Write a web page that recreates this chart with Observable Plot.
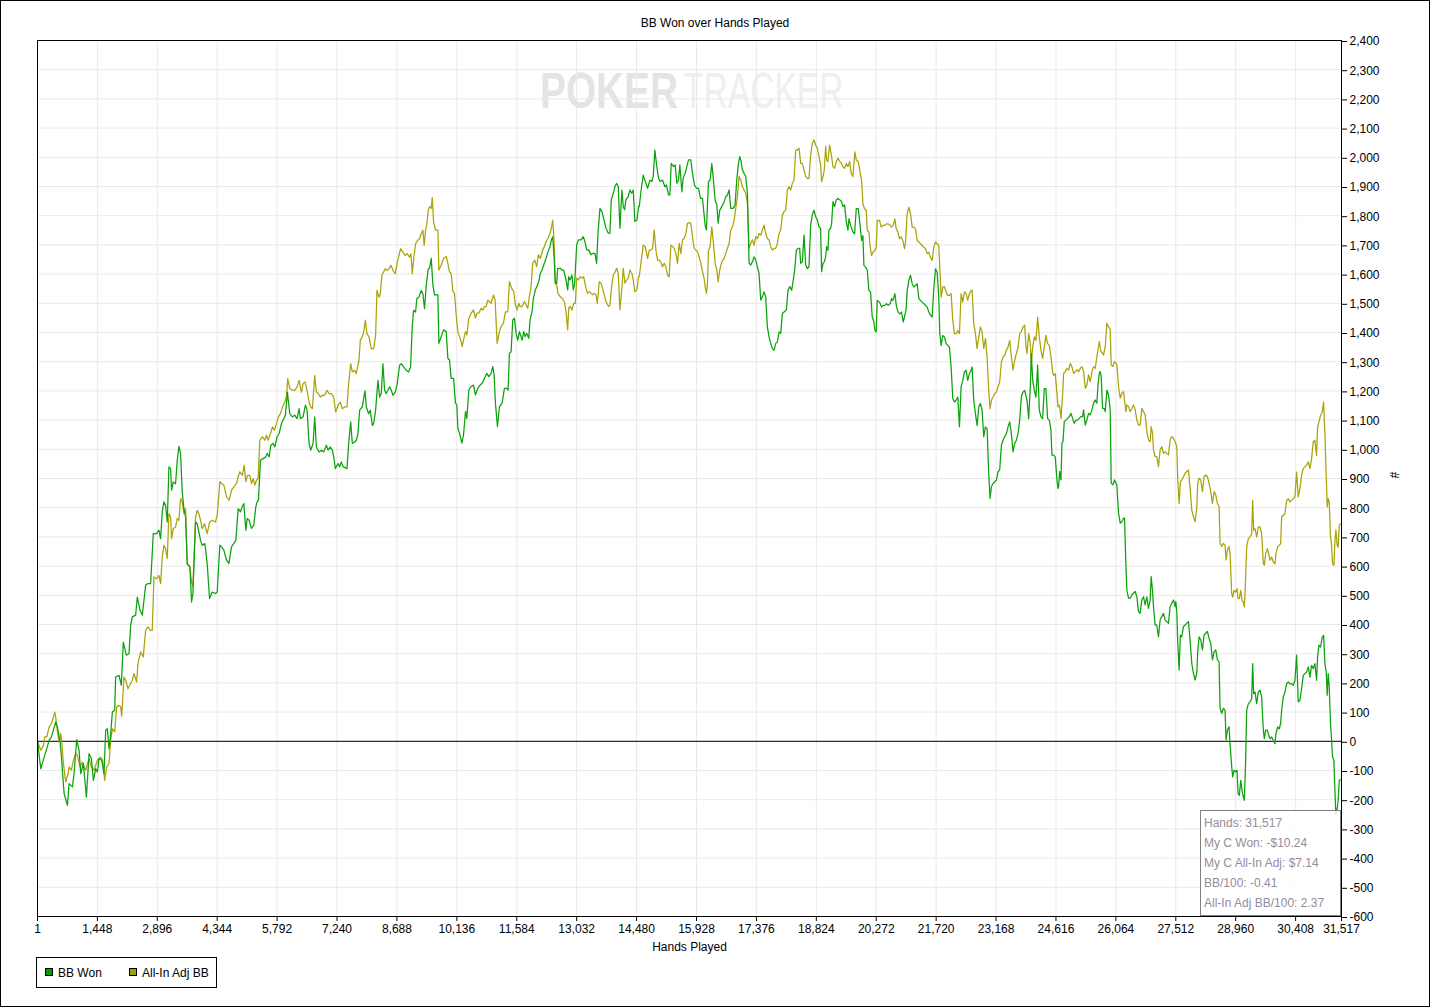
<!DOCTYPE html>
<html><head><meta charset="utf-8">
<script src="https://cdn.jsdelivr.net/npm/d3@7"></script>
<script src="https://cdn.jsdelivr.net/npm/@observablehq/plot@0.6"></script>
<style>
body{margin:0;background:#fff;}
#wrap{position:relative;width:1430px;height:1007px;background:#fff;font-family:"Liberation Sans",Arial,sans-serif;font-size:12px;color:#000;overflow:hidden;}
#wm{position:absolute;left:0;top:0;}
#chart{position:absolute;left:0;top:0;}
#title{position:absolute;left:0;top:16px;width:1430px;text-align:center;line-height:14px;}
#tip{position:absolute;left:1200px;top:810px;width:141px;height:106px;box-sizing:border-box;border:1px solid #808080;background:rgba(255,255,255,0.82);color:#958b9b;padding:2px 0 0 3px;line-height:20px;white-space:nowrap;}
#legend{position:absolute;left:36px;top:957px;width:181px;height:31px;box-sizing:border-box;border:1px solid #000;}
.sw{position:absolute;top:10px;width:8px;height:8px;box-sizing:border-box;border:1px solid #000;}
.lt{position:absolute;top:8px;line-height:14px;}
#border{position:absolute;left:0;top:0;width:1430px;height:1007px;box-sizing:border-box;border:1px solid #000;pointer-events:none;}
</style></head>
<body>
<div id="wrap">
  <svg id="wm" width="1430" height="130">
    <text transform="translate(540,108) scale(0.776,1)" font-family="Liberation Sans, Arial, sans-serif" font-weight="bold" font-size="50" fill="#e4e4e4">POKER</text>
    <text transform="translate(683,108) scale(0.672,1)" font-family="Liberation Sans, Arial, sans-serif" font-size="50" fill="#efefef">TRACKER</text>
  </svg>
  <div id="chart"></div>
  <div id="title"></div>
  <div id="tip"></div>
  <div id="legend"></div>
  <div id="border"></div>
</div>
<script>
const titleText = "BB Won over Hands Played";
const xLabel = "Hands Played";
const yLabel = "#";
const xTicks = [1,1448,2896,4344,5792,7240,8688,10136,11584,13032,14480,15928,17376,18824,20272,21720,23168,24616,26064,27512,28960,30408,31517];
const yTicks = d3.range(-600, 2401, 100);
const seriesNames = ["BB Won", "All-In Adj BB"];
const seriesColors = ["#0ba20b", "#aaa30a"];
const swatchColors = ["#00a000", "#a0a000"];
const tipLines = ["Hands: 31,517", "My C Won: -$10.24", "My C All-In Adj: $7.14", "BB/100: -0.41", "All-In Adj BB/100: 2.37"];

// [hand, BB won]
const bbWon = [[1,0],[80,-94],[161,-54],[225,-25],[282,3],[338,15],[442,66],[483,49],[547,-2],[579,-54],[644,-179],[724,-219],[764,-145],[845,-156],[885,-111],[949,6],[1006,-31],[1046,-111],[1110,-76],[1183,-191],[1247,-42],[1303,-59],[1351,-134],[1408,-94],[1448,-105],[1488,-59],[1553,-65],[1609,-111],[1649,38],[1689,43],[1729,-25],[1770,26],[1810,100],[1866,106],[1890,220],[1971,226],[2027,192],[2075,340],[2148,295],[2212,300],[2252,397],[2293,426],[2373,432],[2413,494],[2478,449],[2534,432],[2614,534],[2671,540],[2735,540],[2799,711],[2880,711],[2936,723],[2976,694],[3016,785],[3057,820],[3097,808],[3137,751],[3177,940],[3218,934],[3242,860],[3282,888],[3338,882],[3378,962],[3419,1010],[3459,985],[3499,854],[3539,797],[3580,768],[3620,608],[3684,597],[3724,477],[3757,506],[3821,751],[3861,745],[3942,688],[3982,671],[4046,677],[4102,608],[4159,489],[4223,511],[4303,506],[4344,511],
[4408,672],[4449,666],[4505,655],[4569,621],[4626,609],[4690,666],[4746,678],[4795,689],[4851,797],[4907,786],[4947,803],[4988,814],[5036,723],[5068,763],[5116,757],[5173,729],[5229,740],[5277,803],[5309,820],[5341,826],[5390,963],[5454,968],[5518,974],[5551,986],[5599,974],[5639,1014],[5695,1020],[5736,1008],[5792,1043],[5840,1054],[5897,1088],[5953,1105],[5993,1117],[6041,1196],[6098,1122],[6162,1111],[6218,1117],[6275,1105],[6323,1139],[6355,1105],[6419,1111],[6476,1151],[6516,1134],[6564,1020],[6604,997],[6661,1020],[6701,1111],[6741,1008],[6806,991],[6862,997],[6918,991],[6983,1014],[7023,997],[7079,1008],[7127,997],[7168,968],[7200,934],[7264,951],[7304,940],[7344,957],[7385,940],[7425,938],[7481,934],[7521,1020],[7570,1094],[7610,1020],[7666,1025],[7706,1031],[7747,1054],[7787,1134],[7851,1145],[7916,1200],[7948,1145],[8004,1122],[8044,1134],[8093,1082],[8125,1088],[8173,1134],[8229,1236],[8270,1179],[8310,1191],[8350,1293],[8390,1202],[8430,1191],[8471,1202],[8511,1214],[8551,1202],[8591,1185],[8648,1196],[8696,1225],[8752,1288],[8792,1293],[8849,1282],[8913,1271],[8969,1265],[9018,1282],[9058,1419],[9090,1476],[9138,1470],[9170,1516],[9219,1521],[9275,1544],[9315,1533],[9355,1482],[9396,1561],[9444,1618],
[9476,1620],[9517,1654],[9557,1563],[9597,1529],[9678,1529],[9702,1363],[9758,1386],[9814,1409],[9879,1403],[9919,1312],[9959,1306],[9999,1243],[10056,1243],[10104,1158],[10136,1152],[10160,1072],[10200,1055],[10257,1021],[10297,1049],[10345,1129],[10377,1106],[10426,1203],[10482,1215],[10538,1220],[10586,1186],[10643,1209],[10699,1220],[10747,1226],[10804,1243],[10860,1260],[10908,1249],[10964,1260],[11005,1283],[11037,1255],[11069,1158],[11117,1078],[11166,1146],[11230,1158],[11286,1209],[11343,1209],[11375,1203],[11407,1329],[11447,1334],[11487,1443],[11528,1449],[11568,1397],[11608,1374],[11648,1403],[11713,1374],[11753,1403],[11785,1386],[11825,1397],[11873,1380],[11906,1443],[11954,1471],[11986,1517],[12034,1546],[12067,1557],[12115,1574],[12155,1603],[12195,1614],[12236,1631],[12292,1654],[12340,1677],[12388,1694],[12420,1717],[12453,1728],[12485,1660],[12517,1568],[12549,1568],[12573,1620],[12630,1620],[12678,1614],[12718,1614],[12774,1580],[12815,1546],[12839,1591],[12871,1580],[12919,1597],[12951,1546],[12984,1568],[13032,1700],[13072,1717],[13136,1717],[13193,1728],[13233,1711],[13273,1683],[13322,1683],[13378,1666],[13418,1671],[13474,1671],[13515,1637],[13547,1740],[13595,1825],[13643,1814],[13684,1791],[13740,1757],[13796,1740],[13836,1740],[13868,1854],[13917,1877],[13957,1900],[13997,1911],[14037,1900],[14077,1757],[14126,1888],[14158,1831],[14190,1820],[14222,1854],[14278,1865],[14319,1888],[14359,1877],[14399,1888],[14439,1780],[14488,1785],[14528,1831],
[14545,1831],[14585,1882],[14641,1939],[14689,1917],[14746,1894],[14802,1922],[14850,1917],[14882,1934],[14922,2025],[14963,1974],[15011,1928],[15051,1917],[15107,1922],[15164,1899],[15204,1905],[15252,1871],[15285,1871],[15317,1979],[15373,1968],[15413,1974],[15454,1911],[15494,1922],[15526,1974],[15574,1882],[15606,1928],[15654,1945],[15695,1968],[15735,1991],[15791,1991],[15831,1945],[15880,1905],[15928,1894],[15976,1894],[16025,1859],[16073,1859],[16113,1802],[16137,1768],[16169,1751],[16193,1837],[16218,1917],[16258,1922],[16298,1979],[16338,1922],[16378,1854],[16419,1837],[16451,1774],[16491,1819],[16539,1831],[16596,1848],[16636,1865],[16676,1871],[16716,1888],[16757,1825],[16813,1825],[16861,1837],[16901,1922],[16942,1979],[16974,2002],[17006,1985],[17038,1957],[17078,1945],[17118,1934],[17159,1877],[17199,1637],[17239,1631],[17279,1642],[17320,1659],[17360,1648],[17400,1625],[17440,1602],[17481,1511],[17521,1522],[17561,1539],[17601,1522],[17641,1419],[17682,1385],[17722,1362],[17762,1345],[17802,1339],[17842,1362],[17883,1368],[17923,1402],[17963,1397],[18003,1465],[18052,1471],[18100,1477],[18140,1545],[18180,1557],[18229,1545],[18261,1574],[18301,1614],[18341,1682],[18382,1688],[18422,1688],[18446,1637],[18486,1642],[18526,1734],[18567,1631],[18607,1619],[18647,1625],[18687,1768],[18727,1802],[18768,1819],[18808,1797],[18848,1785],[18888,1762],[18928,1757],[18952,1608],[18985,1637],[19017,1642],[19049,1659],[19073,1694],[19105,1682],[19129,1751],[19170,1757],[19194,1774],[19226,1848],[19266,1831],[19306,1854],[19346,1859],[19395,1854],[19435,1848],[19467,1831],[19507,1837],[19548,1779],[19588,1751],
[19612,1789],[19653,1767],[19709,1744],[19749,1738],[19789,1824],[19838,1824],[19878,1772],[19918,1715],[19950,1732],[19974,1630],[20015,1624],[20055,1613],[20095,1544],[20135,1539],[20175,1453],[20216,1436],[20240,1407],[20272,1402],[20296,1510],[20352,1504],[20401,1487],[20441,1493],[20481,1493],[20521,1499],[20562,1493],[20610,1499],[20642,1516],[20674,1510],[20722,1533],[20763,1487],[20803,1470],[20843,1464],[20883,1470],[20924,1436],[20964,1459],[20996,1482],[21020,1544],[21060,1578],[21101,1596],[21141,1567],[21181,1556],[21221,1561],[21261,1567],[21302,1516],[21342,1510],[21382,1504],[21422,1499],[21463,1493],[21503,1487],[21543,1470],[21583,1459],[21623,1453],[21664,1550],[21704,1618],[21744,1607],[21784,1521],[21808,1396],[21841,1356],[21881,1390],[21921,1385],[21961,1362],[22001,1356],[22042,1350],[22082,1282],[22122,1174],[22162,1162],[22203,1168],[22243,1179],[22283,1077],[22323,1214],[22363,1236],[22404,1265],[22444,1271],[22484,1236],[22524,1259],[22565,1271],[22589,1282],[22629,1168],[22669,1122],[22710,1082],[22750,1145],[22790,1157],[22830,1134],[22870,1043],[22911,1077],[22951,1071],[22991,917],[23023,832],[23055,872],[23096,883],[23136,889],[23176,894],[23216,923],[23256,929],[23297,1014],[23337,1031],[23377,1043],[23417,1054],[23458,1077],[23498,1094],[23538,1054],[23578,991],[23618,1020],[23659,1031],[23699,1054],[23739,1100],[23779,1179],[23819,1196],[23860,1202],[23916,1168],[23956,1105],[23996,1214],[24020,1328],[24053,1236],[24093,1202],[24133,1179],[24173,1288],[24213,1134],[24254,1111],[24294,1105],[24334,1208],[24374,1208],[24414,1105],[24455,1100],[24495,1065],[24519,980],[24559,980],[24599,974],[24640,894],[24664,866],
[24680,872],[24705,924],[24737,895],[24761,1021],[24785,1026],[24817,1095],[24857,1100],[24898,1106],[24938,1112],[24978,1123],[25018,1106],[25058,1089],[25099,1100],[25139,1100],[25179,1106],[25219,1112],[25260,1112],[25284,1135],[25324,1083],[25364,1100],[25404,1123],[25445,1118],[25485,1135],[25525,1158],[25565,1169],[25605,1158],[25630,1215],[25662,1260],[25686,1266],[25710,1249],[25742,1140],[25783,1140],[25807,1129],[25847,1203],[25887,1186],[25927,1135],[25951,884],[25992,878],[26032,895],[26064,884],[26088,878],[26128,781],[26169,747],[26209,752],[26249,764],[26273,764],[26305,610],[26329,518],[26370,490],[26410,490],[26450,501],[26490,507],[26531,513],[26571,495],[26611,444],[26651,438],[26691,484],[26732,495],[26772,467],[26812,495],[26852,455],[26893,484],[26917,564],[26949,518],[26973,461],[27013,398],[27053,398],[27094,358],[27134,416],[27174,427],[27214,438],[27254,416],[27295,410],[27335,404],[27375,461],[27415,473],[27456,484],[27496,461],[27512,478],[27536,444],[27560,336],[27592,244],[27624,364],[27657,358],[27697,393],[27737,398],[27777,404],[27818,410],[27858,347],[27898,267],[27938,233],[27979,210],[28019,233],[28043,307],[28075,358],[28115,347],[28156,313],[28196,364],[28236,370],[28276,376],[28316,353],[28357,336],[28397,279],[28437,307],[28477,313],[28518,279],[28558,273],[28582,113],[28622,96],[28662,113],[28702,107],[28727,5],[28759,39],[28799,50],[28823,-7],
[28863,-88],[28888,-122],[28920,-99],[28960,-105],[28992,-99],[29016,-179],[29048,-185],[29081,-134],[29113,-168],[29145,-191],[29169,-202],[29201,-65],[29225,106],[29266,129],[29306,135],[29346,146],[29370,266],[29394,163],[29427,169],[29467,129],[29507,169],[29547,175],[29587,152],[29628,38],[29652,9],[29684,38],[29724,38],[29748,26],[29789,9],[29829,15],[29869,3],[29909,-8],[29933,26],[29974,49],[30014,43],[30046,61],[30070,106],[30110,152],[30151,169],[30191,197],[30231,203],[30271,197],[30311,197],[30352,192],[30392,209],[30432,295],[30472,135],[30512,140],[30553,180],[30593,226],[30633,232],[30673,237],[30714,255],[30754,220],[30794,260],[30834,249],[30874,266],[30915,209],[30939,289],[30971,329],[31011,323],[31051,357],[31084,363],[31116,266],[31148,237],[31172,158],[31196,232],[31220,186],[31252,61],[31277,3],[31301,-54],[31333,-65],[31357,-168],[31381,-250],[31413,-231],[31437,-202],[31462,-134],[31517,-129]];

// [hand, all-in adjusted BB]
const allInAdjBB = [[1,0],[80,-31],[145,-14],[177,15],[225,15],[282,49],[338,61],[378,78],[418,100],[442,83],[483,32],[523,-2],[563,26],[587,-2],[627,-76],[684,-139],[740,-111],[764,-88],[820,-99],[869,-65],[925,-42],[965,-48],[1030,-88],[1086,-71],[1126,-88],[1166,-99],[1247,-59],[1303,-88],[1367,-99],[1448,-65],[1528,-54],[1577,-65],[1625,-134],[1673,-88],[1729,-76],[1770,3],[1810,43],[1866,32],[1914,118],[1971,123],[2011,118],[2035,86],[2091,220],[2132,209],[2188,180],[2252,198],[2293,209],[2333,232],[2397,203],[2429,266],[2494,306],[2558,289],[2614,380],[2671,392],[2735,380],[2775,380],[2815,563],[2880,557],[2936,568],[2976,540],[3016,631],[3057,671],[3097,660],[3137,626],[3177,780],[3218,768],[3242,694],[3282,728],[3338,734],[3378,763],[3419,757],[3459,831],[3499,820],[3539,780],[3580,797],[3620,608],[3684,597],[3724,546],[3757,529],[3821,768],[3861,791],[3901,780],[3942,757],[3982,728],[4038,745],[4102,711],[4159,751],[4223,757],[4303,751],[4344,774],
[4408,889],[4449,883],[4505,877],[4569,837],[4634,826],[4690,860],[4746,871],[4811,883],[4851,906],[4891,923],[4955,911],[4996,946],[5036,889],[5076,911],[5132,911],[5173,883],[5213,900],[5253,877],[5293,894],[5333,900],[5374,1031],[5438,1043],[5494,1031],[5535,1048],[5575,1031],[5631,1054],[5679,1077],[5728,1065],[5776,1088],[5824,1111],[5872,1122],[5921,1145],[5977,1162],[6017,1179],[6049,1242],[6098,1208],[6162,1202],[6218,1202],[6275,1214],[6323,1236],[6379,1196],[6419,1225],[6468,1231],[6516,1202],[6564,1162],[6604,1145],[6645,1139],[6701,1253],[6741,1196],[6789,1191],[6838,1179],[6886,1185],[6942,1185],[6999,1202],[7047,1191],[7103,1191],[7159,1179],[7208,1128],[7264,1151],[7320,1162],[7369,1139],[7425,1145],[7481,1145],[7521,1225],[7570,1293],[7610,1265],[7666,1271],[7706,1259],[7771,1305],[7803,1373],[7851,1385],[7892,1407],[7924,1442],[7964,1396],[8012,1385],[8068,1345],[8125,1345],[8173,1390],[8205,1544],[8253,1521],[8286,1533],[8326,1596],[8366,1607],[8406,1618],[8455,1613],[8495,1618],[8543,1630],[8591,1613],[8648,1601],[8688,1635],[8736,1664],[8776,1687],[8833,1675],[8889,1664],[8937,1670],[8994,1658],[9026,1670],[9058,1601],[9098,1658],[9138,1704],[9186,1715],[9235,1721],[9275,1738],[9315,1750],[9347,1698],[9380,1750],[9412,1772],[9444,1818],
[9476,1831],[9517,1825],[9541,1863],[9573,1780],[9621,1751],[9678,1751],[9702,1614],[9758,1631],[9814,1654],[9879,1660],[9919,1637],[9959,1608],[9999,1603],[10040,1540],[10080,1534],[10120,1460],[10160,1403],[10200,1386],[10241,1369],[10265,1352],[10297,1374],[10345,1403],[10377,1392],[10426,1449],[10482,1466],[10538,1477],[10586,1449],[10619,1466],[10667,1466],[10723,1483],[10763,1477],[10804,1489],[10844,1489],[10884,1511],[10924,1506],[10964,1500],[11021,1529],[11061,1511],[11109,1363],[11166,1403],[11206,1420],[11262,1432],[11310,1471],[11367,1471],[11407,1574],[11463,1551],[11512,1540],[11552,1494],[11592,1477],[11632,1500],[11664,1489],[11713,1489],[11769,1506],[11809,1494],[11849,1483],[11889,1523],[11930,1557],[11970,1637],[12018,1648],[12067,1626],[12107,1666],[12155,1654],[12211,1683],[12252,1694],[12292,1711],[12340,1723],[12388,1740],[12420,1757],[12453,1785],[12485,1717],[12517,1568],[12549,1563],[12581,1534],[12630,1523],[12678,1517],[12734,1506],[12774,1471],[12815,1409],[12839,1483],[12879,1489],[12919,1477],[12960,1500],[13000,1500],[13032,1586],[13072,1580],[13112,1591],[13161,1586],[13201,1591],[13257,1551],[13297,1534],[13338,1540],[13378,1534],[13418,1529],[13458,1534],[13498,1529],[13531,1500],[13579,1574],[13619,1569],[13659,1551],[13700,1529],[13740,1506],[13804,1489],[13836,1494],[13876,1557],[13917,1597],[13965,1608],[13997,1620],[14037,1603],[14077,1477],[14126,1557],[14158,1620],[14198,1569],[14238,1580],[14278,1586],[14319,1614],[14367,1603],[14399,1580],[14439,1540],[14488,1546],[14528,1591],
[14545,1591],[14585,1637],[14641,1699],[14689,1694],[14746,1654],[14786,1682],[14826,1682],[14866,1688],[14906,1751],[14947,1682],[14987,1648],[15027,1648],[15075,1637],[15107,1625],[15148,1637],[15188,1625],[15228,1597],[15268,1591],[15309,1699],[15349,1694],[15389,1688],[15429,1671],[15470,1637],[15510,1705],[15550,1671],[15590,1717],[15630,1722],[15671,1739],[15711,1774],[15751,1776],[15791,1774],[15831,1728],[15872,1688],[15912,1682],[15952,1677],[15992,1659],[16033,1637],[16073,1608],[16113,1585],[16137,1557],[16169,1534],[16193,1568],[16218,1682],[16258,1694],[16298,1762],[16338,1705],[16378,1637],[16419,1614],[16451,1574],[16491,1614],[16539,1642],[16596,1654],[16636,1671],[16676,1688],[16716,1705],[16757,1751],[16797,1762],[16837,1785],[16877,1825],[16917,1865],[16958,1934],[16998,1922],[17038,1899],[17078,1888],[17118,1877],[17159,1842],[17199,1688],[17239,1705],[17279,1717],[17320,1699],[17360,1728],[17400,1722],[17440,1739],[17481,1734],[17521,1751],[17561,1768],[17601,1739],[17641,1722],[17682,1717],[17722,1694],[17762,1682],[17802,1688],[17842,1688],[17883,1705],[17923,1739],[17963,1751],[18003,1802],[18044,1814],[18084,1819],[18124,1888],[18164,1899],[18205,1888],[18245,1911],[18285,1922],[18325,2025],[18366,2025],[18406,2031],[18446,1979],[18486,1979],[18526,1957],[18567,1934],[18607,1928],[18647,1928],[18687,2008],[18727,2048],[18768,2059],[18808,2042],[18848,2031],[18888,2002],[18928,1974],[18952,1917],[18985,1934],[19017,1957],[19049,2037],[19073,1991],[19105,1985],[19145,2042],[19194,2002],[19226,1968],[19266,1962],[19306,1985],[19346,1997],[19395,1985],[19435,1979],[19467,1968],[19507,1962],[19548,1979],[19588,1968],[19628,1985],[19668,1945],[19708,1934],[19756,2019],[19789,1991],[19837,1985],
[19918,1921],[19950,1841],[19990,1824],[20031,1818],[20055,1749],[20095,1744],[20127,1692],[20159,1664],[20192,1675],[20240,1681],[20272,1692],[20296,1784],[20352,1784],[20393,1761],[20433,1767],[20481,1767],[20521,1772],[20562,1772],[20602,1767],[20642,1761],[20682,1767],[20722,1789],[20755,1755],[20795,1744],[20835,1721],[20875,1727],[20916,1715],[20956,1687],[20980,1710],[21020,1807],[21060,1829],[21101,1807],[21141,1761],[21181,1761],[21221,1755],[21261,1715],[21302,1710],[21342,1704],[21382,1698],[21422,1692],[21463,1687],[21503,1670],[21543,1675],[21583,1658],[21623,1647],[21664,1692],[21704,1710],[21744,1704],[21784,1698],[21808,1624],[21841,1521],[21881,1556],[21921,1556],[21961,1539],[22001,1527],[22042,1527],[22082,1533],[22122,1442],[22162,1396],[22203,1396],[22243,1407],[22283,1396],[22323,1533],[22363,1504],[22404,1539],[22444,1533],[22484,1510],[22524,1533],[22565,1544],[22589,1544],[22629,1430],[22669,1396],[22710,1345],[22750,1385],[22790,1419],[22830,1402],[22870,1345],[22911,1379],[22951,1316],[22991,1202],[23023,1139],[23055,1168],[23096,1179],[23136,1191],[23176,1196],[23216,1214],[23256,1231],[23297,1299],[23337,1316],[23377,1322],[23417,1339],[23458,1350],[23498,1373],[23538,1316],[23578,1271],[23618,1305],[23659,1328],[23699,1350],[23739,1396],[23779,1402],[23819,1419],[23860,1425],[23892,1350],[23916,1328],[23956,1396],[23996,1362],[24020,1293],[24053,1350],[24093,1385],[24133,1373],[24173,1453],[24213,1385],[24254,1339],[24294,1311],[24334,1350],[24374,1390],[24414,1362],[24455,1356],[24495,1316],[24535,1265],[24559,1253],[24599,1259],[24640,1191],[24664,1145],
[24680,1152],[24705,1146],[24737,1106],[24777,1186],[24801,1260],[24841,1266],[24882,1277],[24922,1272],[24962,1294],[25002,1283],[25042,1260],[25083,1266],[25123,1272],[25163,1266],[25203,1277],[25243,1283],[25284,1266],[25324,1209],[25364,1220],[25404,1255],[25445,1232],[25485,1266],[25525,1283],[25565,1277],[25605,1317],[25630,1340],[25662,1369],[25702,1335],[25742,1329],[25766,1323],[25807,1352],[25847,1432],[25887,1420],[25927,1409],[25951,1289],[25992,1283],[26032,1300],[26064,1295],[26088,1289],[26128,1215],[26169,1175],[26209,1192],[26249,1197],[26273,1169],[26305,1129],[26329,1152],[26370,1146],[26410,1129],[26450,1140],[26490,1152],[26531,1135],[26571,1100],[26611,1083],[26651,1083],[26691,1140],[26732,1129],[26772,1118],[26812,1061],[26852,1032],[26893,1026],[26917,1078],[26949,1055],[26973,998],[27013,975],[27053,975],[27094,941],[27134,998],[27174,1009],[27214,986],[27254,992],[27295,986],[27335,981],[27375,1032],[27415,1043],[27456,1038],[27496,1026],[27536,1009],[27560,895],[27592,815],[27624,889],[27657,895],[27697,906],[27737,918],[27777,924],[27818,929],[27858,866],[27898,792],[27938,769],[27979,752],[28019,798],[28043,884],[28075,901],[28115,895],[28156,855],[28196,906],[28236,912],[28276,906],[28316,884],[28357,855],[28397,815],[28437,855],[28477,844],[28518,815],[28558,804],[28582,678],[28622,667],[28662,678],[28702,672],[28727,621],[28759,655],[28799,667],[28823,644],
[28863,506],[28888,494],[28920,517],[28960,511],[28992,523],[29016,489],[29048,489],[29081,517],[29113,483],[29145,477],[29169,460],[29201,563],[29225,666],[29266,694],[29306,700],[29346,711],[29370,825],[29394,723],[29427,728],[29467,700],[29507,734],[29547,734],[29587,711],[29628,608],[29652,603],[29684,643],[29724,660],[29748,648],[29789,620],[29829,631],[29869,614],[29909,608],[29933,643],[29974,666],[30014,671],[30046,677],[30070,768],[30110,774],[30151,780],[30191,825],[30231,831],[30271,820],[30311,825],[30352,831],[30392,837],[30432,922],[30472,837],[30512,865],[30553,911],[30593,934],[30633,940],[30673,945],[30714,957],[30754,934],[30794,968],[30834,1025],[30874,1031],[30915,979],[30939,1076],[30971,1094],[31011,1116],[31051,1128],[31084,1162],[31116,1054],[31148,905],[31172,803],[31196,831],[31220,820],[31252,700],[31277,671],[31301,608],[31333,603],[31357,683],[31381,723],[31413,671],[31437,665],[31462,740],[31517,747]];

const fmt = d => d.toLocaleString("en-US");

const chart = Plot.plot({
  width: 1430,
  height: 1007,
  marginLeft: 37,
  marginRight: 89,
  marginTop: 40,
  marginBottom: 91,
  x: {type: "linear", domain: [1, 31517]},
  y: {type: "linear", domain: [-600, 2400]},
  style: {background: "transparent", fontFamily: "'Liberation Sans', Arial, sans-serif", fontSize: "12px", color: "#000", overflow: "visible"},
  marks: [
    Plot.gridX(xTicks, {stroke: "#e9e9e9", strokeOpacity: 1}),
    Plot.gridY(yTicks, {stroke: "#e9e9e9", strokeOpacity: 1}),
    Plot.ruleY([0], {stroke: "#000", strokeWidth: 1}),
    Plot.line(allInAdjBB, {x: d => d[0], y: d => d[1], stroke: seriesColors[1], strokeWidth: 1.25}),
    Plot.line(bbWon, {x: d => d[0], y: d => d[1], stroke: seriesColors[0], strokeWidth: 1.25}),
    Plot.frame({stroke: "#000"}),
    Plot.axisX(xTicks, {tickFormat: fmt, tickSize: 5, tickPadding: 3, label: null, stroke: "#000"}),
    Plot.axisY(yTicks, {anchor: "right", tickFormat: fmt, tickSize: 5, tickPadding: 3, label: null, stroke: "#000", dy: 1}),
    Plot.text([xLabel], {text: d => d, frameAnchor: "bottom", dy: 34, fill: "#000"}),
    Plot.text([yLabel], {text: d => d, frameAnchor: "right", dx: 52, rotate: 90, fill: "#000"})
  ]
});
document.getElementById("chart").appendChild(chart);

document.getElementById("title").textContent = titleText;
document.getElementById("tip").innerHTML = tipLines.map(t => `<div>${t}</div>`).join("");
const lg = document.getElementById("legend");
const swX = [8, 92], txX = [21, 105];
seriesNames.forEach((n, i) => {
  const s = document.createElement("div");
  s.className = "sw"; s.style.left = swX[i] + "px"; s.style.background = swatchColors[i];
  lg.appendChild(s);
  const t = document.createElement("div");
  t.className = "lt"; t.style.left = txX[i] + "px"; t.textContent = n;
  lg.appendChild(t);
});
</script>
</body></html>
